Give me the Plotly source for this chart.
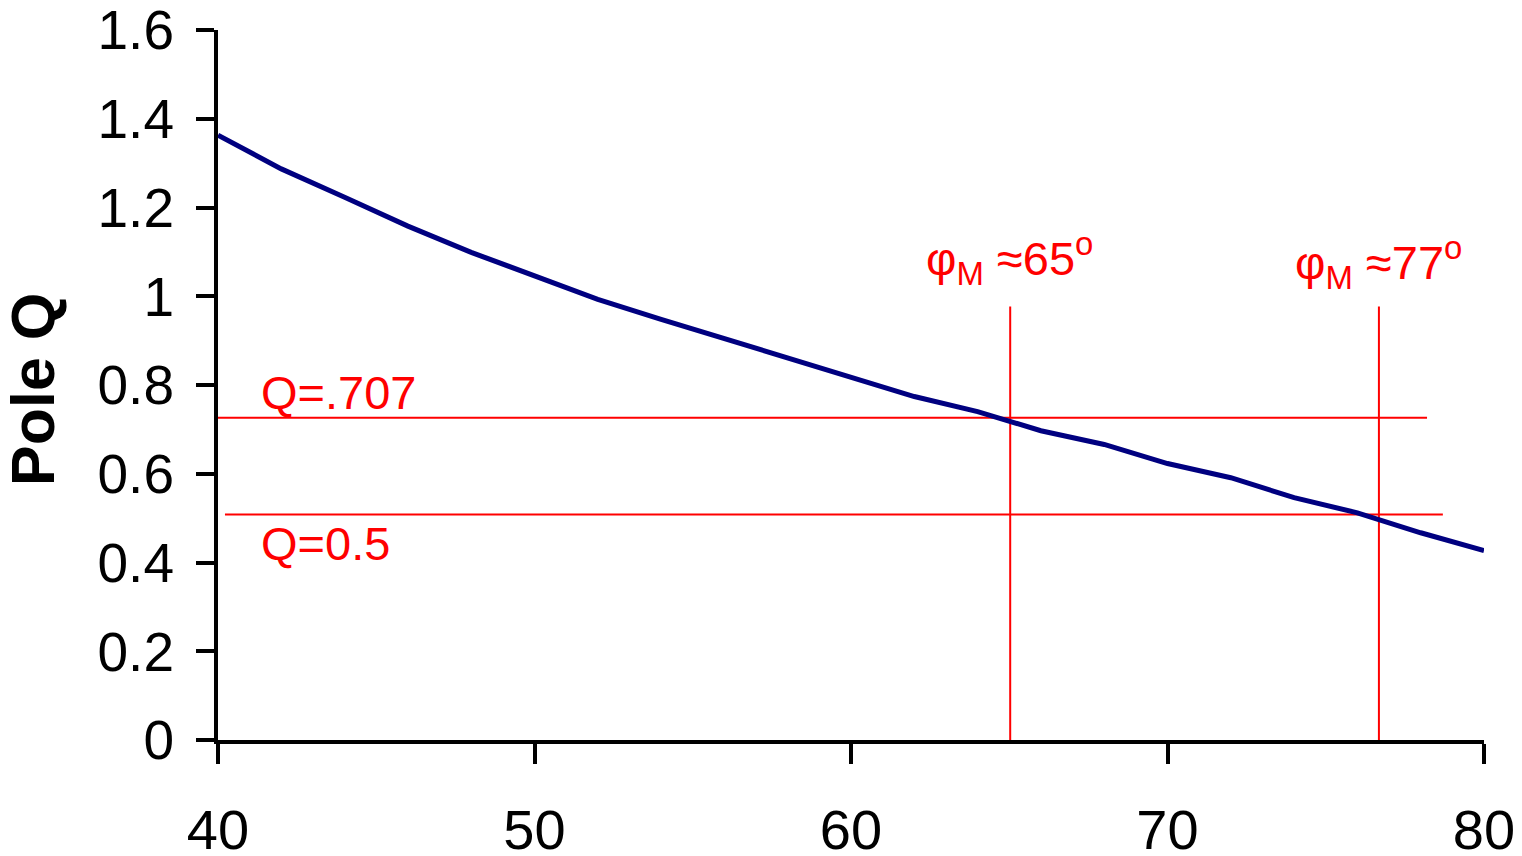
import plotly.graph_objects as go

# Curve data: phase margin (deg) vs pole Q
phase_margin = [40, 42, 44, 46, 48, 50, 52, 54, 56, 58, 60, 62, 64, 66, 68, 70, 72, 74, 76, 78, 80]
pole_q = [1.363, 1.287, 1.223, 1.158, 1.099, 1.045, 0.993, 0.948, 0.905, 0.862, 0.817,
          0.774, 0.740, 0.697, 0.666, 0.623, 0.591, 0.546, 0.512, 0.467, 0.427]

# Reference lines (red)
q_levels = [0.726, 0.508]
q_line_x0 = [39.72, 40.22]
q_line_x1 = [78.2, 78.7]
q_labels = ["Q=.707", "Q=0.5"]
q_label_y = [0.782, 0.443]
q_label_x = 41.3

pm_levels = [65.03, 76.68]
pm_line_y0 = -0.068
pm_line_y1 = 0.977
pm_labels = ["φ<sub>M</sub> ≈65<sup>o</sup>", "φ<sub>M</sub> ≈77<sup>o</sup>"]
pm_label_x = [62.3, 73.95]
pm_label_y = [1.084, 1.075]

x_ticks = [40, 50, 60, 70, 80]
y_ticks = [0, 0.2, 0.4, 0.6, 0.8, 1.0, 1.2, 1.4, 1.6]

FONT = "Liberation Sans, Arial, sans-serif"
RED = "#FF0000"

fig = go.Figure()

for lvl, x0, x1 in zip(q_levels, q_line_x0, q_line_x1):
    fig.add_trace(go.Scatter(x=[x0, x1], y=[lvl, lvl], mode="lines",
                             line=dict(color=RED, width=2), cliponaxis=False,
                             showlegend=False, hoverinfo="skip"))
for pm in pm_levels:
    fig.add_trace(go.Scatter(x=[pm, pm], y=[pm_line_y0, pm_line_y1], mode="lines",
                             line=dict(color=RED, width=2), cliponaxis=False,
                             showlegend=False, hoverinfo="skip"))

fig.add_trace(go.Scatter(x=phase_margin, y=pole_q, mode="lines",
                         line=dict(color="#000080", width=5), cliponaxis=False,
                         showlegend=False))

for txt, y in zip(q_labels, q_label_y):
    fig.add_annotation(x=q_label_x, y=y, text=txt, showarrow=False,
                       xanchor="left", yanchor="middle",
                       font=dict(family=FONT, size=47, color=RED))
for txt, x, y in zip(pm_labels, pm_label_x, pm_label_y):
    fig.add_annotation(x=x, y=y, text=txt, showarrow=False,
                       xanchor="left", yanchor="middle",
                       font=dict(family=FONT, size=47, color=RED))

fig.add_annotation(xref="paper", yref="paper", x=-0.1456, y=0.494,
                   text="<b>Pole Q</b>", textangle=-90, showarrow=False,
                   xanchor="center", yanchor="middle",
                   font=dict(family=FONT, size=61, color="black"))

fig.update_layout(
    width=1522, height=856,
    margin=dict(l=210, r=46, t=22, b=124, autoexpand=False),
    paper_bgcolor="white", plot_bgcolor="white",
    font=dict(family=FONT, color="black"),
    showlegend=False,
)
fig.update_xaxes(range=[40, 80], tickvals=x_ticks, ticks="outside", ticklen=20,
                 tickwidth=4, tickcolor="black", showline=True, linewidth=4,
                 linecolor="black", showgrid=False, zeroline=False,
                 tickfont=dict(family=FONT, size=56, color="black"),
                 ticklabelstandoff=18, automargin=False, ticklabeloverflow="allow")
fig.update_yaxes(range=[0, 1.6], tickvals=y_ticks, ticks="outside", ticklen=18,
                 tickwidth=4, tickcolor="black", showline=True, linewidth=4,
                 linecolor="black", showgrid=False, zeroline=False,
                 tickfont=dict(family=FONT, size=55, color="black"),
                 ticklabelstandoff=11, automargin=False, ticklabeloverflow="allow")

fig.write_html("out.html")
